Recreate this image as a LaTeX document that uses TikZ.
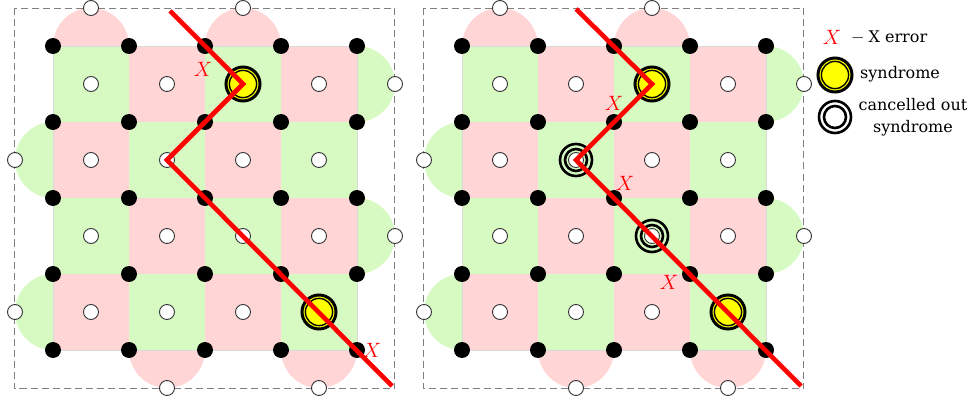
\documentclass[tikz,border=0pt]{standalone}
\usepackage{fontspec}
\setmainfont{lmroman10-regular.otf}[ItalicFont=lmroman10-italic.otf, BoldFont=lmroman10-bold.otf]
\newfontfamily\legendfont{DejaVu Serif}
\definecolor{tilepink}{RGB}{255,213,213}
\definecolor{tilegreen}{RGB}{214,250,194}
\definecolor{synyellow}{RGB}{255,255,0}
\definecolor{errred}{RGB}{255,0,0}
\tikzset{
  qubit/.style={circle, fill=black, inner sep=0pt, minimum size=16pt},
  stab/.style={circle, fill=white, draw=black!80, line width=0.9pt, inner sep=0pt, minimum size=15pt},
  errline/.style={line width=4.6pt, draw=errred},
  errlabel/.style={text=errred, font=\fontsize{19.5}{22}\selectfont, inner sep=0pt},
  legendtext/.style={font=\legendfont\fontsize{16}{21.5}\selectfont, inner sep=0pt, align=center},
  panelframe/.style={dash pattern=on 7pt off 4pt, draw=black!50, line width=1.8pt},
  tileborder/.style={draw=black!15, line width=0.6pt},
  synring/.style={draw=black, line width=3pt},
  syninner/.style={draw=black, line width=1.4pt},
  cancring/.style={draw=black, line width=2.6pt}
}
\newcommand\synmark[1]{%
  \fill[synyellow] (#1) circle[radius=16.5pt];
  \draw[synring] (#1) circle[radius=17pt];
  \draw[syninner] (#1) circle[radius=13.6pt];}
\newcommand\cancmark[1]{%
  \draw[cancring] (#1) circle[radius=16pt];
  \draw[cancring] (#1) circle[radius=11pt];}
\begin{document}
\begin{tikzpicture}[x=1pt,y=-1pt]
\useasboundingbox (0,0) rectangle (970,401);
\foreach \P/\ox in {L/0,R/409}{
  \begin{scope}[xshift=\ox pt]
    % semicircles (full discs, inner halves hidden under tiles)
    \fill[tilepink]  (91,46)   circle[radius=38pt];
    \fill[tilepink]  (243,46)  circle[radius=38pt];
    \fill[tilegreen] (53,160)  circle[radius=38pt];
    \fill[tilegreen] (53,312)  circle[radius=38pt];
    \fill[tilegreen] (357,84)  circle[radius=38pt];
    \fill[tilegreen] (357,236) circle[radius=38pt];
    \fill[tilepink]  (167,350) circle[radius=38pt];
    \fill[tilepink]  (319,350) circle[radius=38pt];
    % tiles
    \foreach \i in {0,...,3}{\foreach \j in {0,...,3}{
      \pgfmathtruncatemacro\tpar{mod(\i+\j,2)}
      \ifnum\tpar=0 \def\tcol{tilegreen}\else\def\tcol{tilepink}\fi
      \fill[\tcol] (53+76*\i,46+76*\j) rectangle ++(76,76);
    }}
    \draw[tileborder] (53,46) rectangle (357,350);
    % dashed frame
    \draw[panelframe] (14.5,8.5) rectangle (394.5,388.5);
    % data qubits
    \foreach \i in {0,...,4}{\foreach \j in {0,...,4}{
      \node[qubit] (\P-q-\i-\j) at (53+76*\i,46+76*\j) {};
    }}
    % stabilisers
    \foreach \i in {0,...,3}{\foreach \j in {0,...,3}{
      \node[stab] (\P-c-\i-\j) at (91+76*\i,84+76*\j) {};
    }}
    \node[stab] (\P-bt1) at (91,8) {};
    \node[stab] (\P-bt2) at (243,8) {};
    \node[stab] (\P-bl1) at (15,160) {};
    \node[stab] (\P-bl2) at (15,312) {};
    \node[stab] (\P-br1) at (395,84) {};
    \node[stab] (\P-br2) at (395,236) {};
    \node[stab] (\P-bb1) at (167,388) {};
    \node[stab] (\P-bb2) at (319,388) {};
  \end{scope}
}
% syndromes
\synmark{L-c-2-0}
\synmark{L-c-3-3}
\synmark{R-c-2-0}
\synmark{R-c-3-3}
\cancmark{R-c-1-1}
\cancmark{R-c-2-2}
% error chains
\coordinate (L-start) at (170,11);
\coordinate (L-end) at (392,386);
\draw[errline] (L-start) -- (L-c-2-0.center) -- (L-c-1-1.center) -- (L-end);
\coordinate (R-start) at (576,9);
\coordinate (R-end) at (801,386);
\draw[errline] (R-start) -- (R-c-2-0.center) -- (R-c-1-1.center) -- (R-end);
% X labels
\node[errlabel] (L-x1) at (203,69) {$X$};
\node[errlabel] (L-x2) at (372,350) {$X$};
\node[errlabel] (R-x1) at (614,103) {$X$};
\node[errlabel] (R-x2) at (625,183) {$X$};
\node[errlabel] (R-x3) at (669,282) {$X$};
% legend
\node[errlabel] (lg-x) at (832,37) {$X$};
\node[legendtext, anchor=west] (lg-xt) at (851,37) {\fontsize{18}{20}\selectfont$-$\hspace{4pt}\fontsize{16}{20}\selectfont X error};
\coordinate (lg-s) at (835,75);
\synmark{lg-s}
\node[legendtext, anchor=west] (lg-st) at (860,74) {syndrome};
\coordinate (lg-c) at (835,117);
\fill[white] (lg-c) circle[radius=15pt];
\cancmark{lg-c}
\node[legendtext] (lg-ct) at (913,117) {cancelled out\\syndrome};
\end{tikzpicture}
\end{document}
